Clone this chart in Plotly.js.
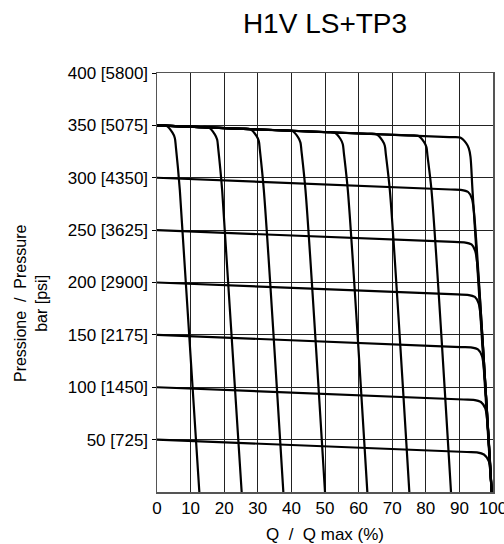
<!DOCTYPE html>
<html>
<head>
<meta charset="utf-8">
<script src="https://cdn.plot.ly/plotly-3.0.1.min.js"></script>
<style>html,body{margin:0;padding:0;background:#fff;}#chart{width:504px;height:544px;}</style>
</head>
<body>
<div id="chart"></div>
<script>
// Axis ticks
const xTickVals = [0, 10, 20, 30, 40, 50, 60, 70, 80, 90, 100];
const yTickVals = [50, 100, 150, 200, 250, 300, 350, 400];
const yTickText = ["50 [725]", "100 [1450]", "150 [2175]", "200 [2900]", "250 [3625]", "300 [4350]", "350 [5075]", "400 [5800]"];

// Top envelope (350 bar) curve
const envX = [0, 87.0, 90.2, 92.0, 92.8, 93.3, 93.9, 99.6];
const envP = [350, 338.8, 338.4, 333, 328, 320, 288, 0];

// Pressure-setting curves (roughly horizontal)
const h300X = [0, 87.4, 90.4, 92.6, 93.7, 94.3, 99.6];
const h300P = [300, 288.8, 288.4, 286.4, 280.4, 268.4, 0];
const h250X = [0, 88.4, 91.4, 93.6, 94.7, 95.3, 99.6];
const h250P = [250, 238.7, 238.3, 236.3, 230.3, 218.3, 0];
const h200X = [0, 89.4, 92.4, 94.6, 95.7, 96.3, 99.6];
const h200P = [200, 188.6, 188.2, 186.2, 180.2, 168.2, 0];
const h150X = [0, 90.4, 93.4, 95.6, 96.7, 97.3, 99.6];
const h150P = [150, 138.4, 138.0, 136.0, 130.0, 118.0, 0];
const h100X = [0, 91.2, 94.2, 96.4, 97.7, 98.3, 99.6];
const h100P = [100, 88.3, 87.9, 85.9, 79.9, 67.9, 0];
const h50X = [0, 92.2, 95.2, 97.3, 98.7, 99.25, 99.6];
const h50P = [50, 38.2, 37.8, 35.8, 29.8, 17.8, 0];

// Flow-setting curves (roughly vertical)
const v1X = [0, 2.8, 4.6, 5.3, 5.6, 6.8, 12.6];
const v1P = [350, 349.6, 343, 338, 330, 288, 0];
const v2X = [0, 12.4, 15.4, 17.2, 17.9, 18.2, 19.4, 25.2];
const v2P = [350, 348.4, 348.0, 341.5, 336.5, 328.5, 288, 0];
const v3X = [0, 24.8, 27.8, 29.6, 30.3, 30.6, 31.8, 37.6];
const v3P = [350, 346.8, 346.4, 340, 335, 327, 288, 0];
const v4X = [0, 37.2, 40.2, 42.0, 42.7, 43.0, 44.2, 50.0];
const v4P = [350, 345.2, 344.8, 338.5, 333.5, 325.5, 288, 0];
const v5X = [0, 49.8, 52.8, 54.6, 55.3, 55.6, 56.8, 62.6];
const v5P = [350, 343.6, 343.2, 337, 332, 324, 288, 0];
const v6X = [0, 62.3, 65.3, 67.1, 67.8, 68.1, 69.3, 75.1];
const v6P = [350, 342.0, 341.6, 335.5, 330.5, 322.5, 288, 0];
const v7X = [0, 74.7, 77.7, 79.5, 80.2, 80.5, 81.7, 87.5];
const v7P = [350, 340.4, 340, 334, 329, 321, 288, 0];

const curves = [
  [envX, envP], [h300X, h300P], [h250X, h250P], [h200X, h200P], [h150X, h150P], [h100X, h100P], [h50X, h50P],
  [v1X, v1P], [v2X, v2P], [v3X, v3P], [v4X, v4P], [v5X, v5P], [v6X, v6P], [v7X, v7P]
];

const traces = curves.map(c => ({
  x: c[0], y: c[1], type: 'scatter', mode: 'lines',
  line: {color: '#000', width: 2.2, shape: 'spline', smoothing: 0.8},
  hoverinfo: 'skip', showlegend: false
}));

const tickFont = {family: 'Liberation Sans, Arial, sans-serif', size: 17, color: '#000'};

const layout = {
  width: 504, height: 544,
  margin: {l: 157, r: 11, t: 73, b: 52},
  paper_bgcolor: '#fff', plot_bgcolor: '#fff',
  showlegend: false,
  title: {
    text: 'H1V LS+TP3',
    font: {family: 'Liberation Sans, Arial, sans-serif', size: 28, color: '#000'},
    x: 0.5, xref: 'paper', xanchor: 'center',
    y: 0.957, yref: 'container', yanchor: 'middle'
  },
  xaxis: {
    range: [0, 100], tickvals: xTickVals, ticktext: xTickVals.map(String),
    showgrid: true, gridcolor: '#222', gridwidth: 1,
    showline: true, linecolor: '#555', linewidth: 1.5, mirror: true,
    zeroline: false, ticks: '', tickfont: tickFont, ticklabeloverflow: 'allow',
    title: {text: 'Q  /  Q max (%)', font: tickFont, standoff: 12}
  },
  yaxis: {
    range: [0, 400], tickvals: yTickVals, ticktext: yTickText,
    showgrid: true, gridcolor: '#222', gridwidth: 1,
    showline: true, linecolor: '#555', linewidth: 1.5, mirror: true,
    zeroline: false, ticks: 'outside', ticklen: 4, tickcolor: '#000', tickfont: tickFont
  },
  annotations: [{
    text: 'Pressione  /  Pressure<br>bar [psi]',
    xref: 'paper', yref: 'paper', x: -0.375, y: 0.451,
    xanchor: 'center', yanchor: 'middle', textangle: -90,
    showarrow: false, font: {family: 'Liberation Sans, Arial, sans-serif', size: 16, color: '#000'}
  }]
};

Plotly.newPlot('chart', traces, layout, {staticPlot: true, displayModeBar: false});
</script>
</body>
</html>
